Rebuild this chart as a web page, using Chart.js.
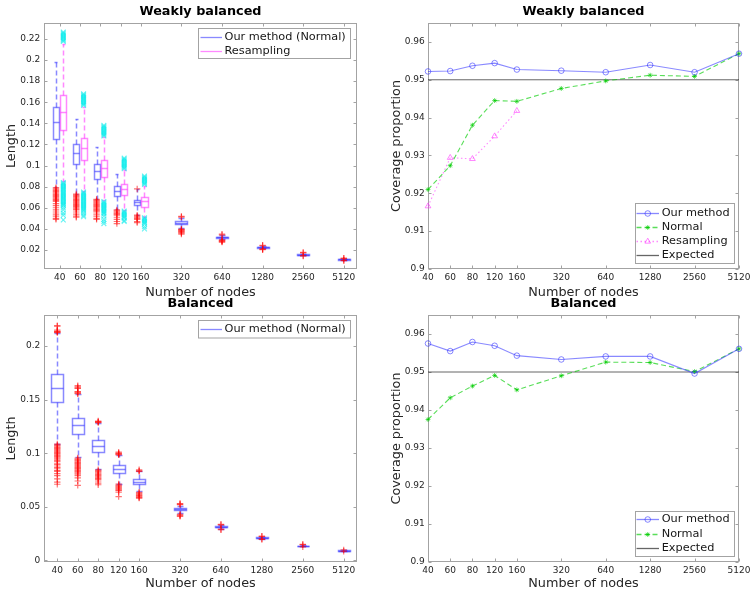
<!DOCTYPE html>
<html><head><meta charset="utf-8">
<script src="https://cdn.jsdelivr.net/npm/chart.js@4.4.1/dist/chart.umd.min.js"></script>
<style>
html,body{margin:0;padding:0;background:#fff;}
#wrap{position:relative;width:756px;height:595px;overflow:hidden;background:#fff;}
canvas{position:absolute;left:0;top:0;}
</style></head><body>
<div id="wrap">
<canvas id="cTL" width="756" height="595"></canvas>
<canvas id="cTR" width="756" height="595"></canvas>
<canvas id="cBL" width="756" height="595"></canvas>
<canvas id="cBR" width="756" height="595"></canvas>
</div>
<script>
// ---------------- DATA ----------------
const nodeLabels = ['40','60','80','120','160','320','640','1280','2560','5120'];
const nodePositions = [1,2,3,4,5,7,9,11,13,15];

const lengthTicksWeak = [0.02,0.04,0.06,0.08,0.1,0.12,0.14,0.16,0.18,0.2,0.22];
const lengthTickLabelsWeak = ['0.02','0.04','0.06','0.08','0.1','0.12','0.14','0.16','0.18','0.2','0.22'];
const lengthTicksBal = [0,0.05,0.1,0.15,0.2];
const lengthTickLabelsBal = ['0','0.05','0.1','0.15','0.2'];
const coverageTicks = [0.9,0.91,0.92,0.93,0.94,0.95,0.96];
const coverageTickLabels = ['0.9','0.91','0.92','0.93','0.94','0.95','0.96'];

// Weakly balanced – Our method (Normal) box statistics
const wbNormQ1  = [0.125, 0.101, 0.0876, 0.0715, 0.0624, 0.0445, 0.0314, 0.0222, 0.0154, 0.0109];
const wbNormMed = [0.141, 0.112, 0.095, 0.0759, 0.0658, 0.0458, 0.0320, 0.0225, 0.0157, 0.0111];
const wbNormQ3  = [0.155, 0.120, 0.101, 0.0803, 0.0677, 0.0470, 0.0326, 0.0228, 0.0160, 0.0113];
const wbNormLo  = [0.0795, 0.0735, 0.0685, 0.0590, 0.0535, 0.0410, 0.0300, 0.0218, 0.0150, 0.0105];
const wbNormHi  = [0.1985, 0.1445, 0.1176, 0.0917, 0.0775, 0.0505, 0.0338, 0.0236, 0.0165, 0.0117];
const wbNormOut = [
  [0.079,0.078,0.077,0.076,0.075,0.074,0.073,0.072,0.071,0.070,0.069,0.068,0.067,0.066,0.064,0.062,0.060,0.058,0.056,0.054,0.052,0.050,0.049],
  [0.073,0.072,0.071,0.070,0.069,0.068,0.067,0.066,0.065,0.064,0.063,0.062,0.061,0.060,0.059,0.058,0.056,0.054,0.052,0.051],
  [0.068,0.067,0.066,0.065,0.064,0.063,0.062,0.061,0.060,0.059,0.058,0.057,0.056,0.054,0.052,0.050,0.049],
  [0.058,0.057,0.056,0.055,0.054,0.053,0.051,0.049,0.047,0.045],
  [0.0778,0.053,0.052,0.051,0.050,0.049,0.047,0.046],
  [0.0512,0.0518,0.0398,0.0392,0.0386,0.038,0.0374,0.0368,0.036,0.035],
  [0.0342,0.035,0.0295,0.029,0.0285,0.028,0.0275],
  [0.024,0.0245,0.0212,0.0207,0.0203],
  [0.0172,0.0177,0.0147,0.0143],
  [0.0119,0.0123,0.0103,0.0100]
];

// Weakly balanced – Resampling box statistics (first five sizes)
const wbResQ1  = [0.1337, 0.105, 0.0895, 0.0718, 0.061];
const wbResMed = [0.1505, 0.1167, 0.0975, 0.0775, 0.0665];
const wbResQ3  = [0.1666, 0.126, 0.105, 0.0826, 0.070];
const wbResLo  = [0.085, 0.076, 0.067, 0.058, 0.0515];
const wbResHi  = [0.2155, 0.155, 0.127, 0.096, 0.081];
const wbResOut = [
  [0.2175,0.2185,0.2195,0.2205,0.2215,0.2225,0.2235,0.2245,0.2255,0.2265,0.084,0.083,0.082,0.081,0.080,0.079,0.078,0.077,0.076,0.075,0.074,0.073,0.072,0.071,0.070,0.069,0.068,0.067,0.066,0.065,0.064,0.063,0.062,0.060,0.058,0.055,0.053,0.0485],
  [0.157,0.158,0.159,0.160,0.161,0.162,0.163,0.164,0.165,0.166,0.167,0.168,0.075,0.074,0.073,0.072,0.071,0.070,0.069,0.068,0.067,0.066,0.065,0.064,0.063,0.062,0.061,0.060,0.059,0.058,0.057,0.055,0.053,0.0515],
  [0.128,0.129,0.130,0.131,0.132,0.133,0.134,0.135,0.136,0.137,0.138,0.066,0.065,0.064,0.063,0.062,0.061,0.060,0.059,0.058,0.057,0.056,0.055,0.054,0.052,0.049,0.047,0.045],
  [0.097,0.098,0.099,0.100,0.101,0.102,0.103,0.104,0.105,0.106,0.107,0.057,0.056,0.055,0.054,0.053,0.052,0.051,0.050,0.048,0.047],
  [0.082,0.083,0.084,0.085,0.086,0.087,0.088,0.089,0.090,0.0505,0.0495,0.0485,0.0475,0.0465,0.0455,0.0445,0.042,0.040]
];

// Balanced – Our method (Normal) box statistics
const bNormQ1  = [0.1476, 0.118, 0.101, 0.0818, 0.0709, 0.0467, 0.0307, 0.0207, 0.0133, 0.0088];
const bNormMed = [0.161, 0.126, 0.1067, 0.085, 0.0733, 0.0476, 0.0312, 0.0210, 0.0135, 0.0090];
const bNormQ3  = [0.1736, 0.133, 0.112, 0.089, 0.0755, 0.0485, 0.0317, 0.0213, 0.0137, 0.0092];
const bNormLo  = [0.109, 0.096, 0.085, 0.0715, 0.0645, 0.0440, 0.0295, 0.0202, 0.0130, 0.0086];
const bNormHi  = [0.212, 0.155, 0.1285, 0.098, 0.083, 0.0510, 0.0325, 0.0218, 0.0140, 0.0094];
const bNormOut = [
  [0.2125,0.213,0.2135,0.214,0.215,0.2185,0.219,0.1085,0.1075,0.1065,0.1055,0.1045,0.1035,0.1025,0.1015,0.1005,0.0995,0.0985,0.0975,0.0965,0.0955,0.0945,0.093,0.092,0.090,0.089,0.087,0.086,0.084,0.083,0.081,0.079,0.076,0.073,0.071],
  [0.1555,0.156,0.157,0.1575,0.1605,0.161,0.162,0.163,0.0955,0.0945,0.0935,0.0925,0.0915,0.0905,0.0895,0.0885,0.0875,0.0865,0.0855,0.0845,0.0835,0.0825,0.0815,0.0805,0.079,0.077,0.074,0.070],
  [0.1285,0.129,0.1295,0.130,0.0845,0.0835,0.0825,0.0815,0.0805,0.0795,0.0785,0.0775,0.0765,0.0755,0.074,0.072,0.0705],
  [0.0985,0.099,0.0995,0.100,0.101,0.0712,0.0703,0.0694,0.0685,0.0676,0.0667,0.0658,0.065,0.0635,0.0595],
  [0.083,0.0835,0.0845,0.0635,0.0627,0.0619,0.0611,0.0603,0.0595,0.0585,0.058],
  [0.052,0.0525,0.053,0.043,0.0423,0.0416,0.041],
  [0.033,0.0336,0.029,0.0285],
  [0.0222,0.0226,0.0198,0.0195],
  [0.0145,0.0149,0.0126],
  [0.0097,0.0084]
];

// Coverage proportions
const wbCovOur       = [0.9522,0.9523,0.9537,0.9544,0.9527,0.9524,0.9520,0.9539,0.9520,0.9569];
const wbCovNormal    = [0.9210,0.9273,0.9380,0.9445,0.9443,0.9477,0.9497,0.9512,0.9509,0.9569];
const wbCovResamp    = [0.9166,0.9294,0.9291,0.9351,0.9418];
const bCovOur        = [0.9575,0.9555,0.9579,0.9569,0.9543,0.9533,0.9541,0.9541,0.9496,0.9561];
const bCovNormal     = [0.9375,0.9432,0.9463,0.9491,0.9453,0.9490,0.9526,0.9525,0.9501,0.9561];
const expectedLevel  = 0.95;

// ---------------- RENDERING ----------------
const FONT = '"DejaVu Sans", sans-serif';
Chart.defaults.font.family = FONT;
Chart.defaults.color = '#262626';

const BLUE = 'rgba(40,40,255,0.55)';
const MAGENTA = 'rgba(255,40,255,0.55)';
const GREEN = 'rgba(0,205,0,0.65)';
const RED_OUT = 'rgba(255,0,0,0.55)';
const CYAN_OUT = 'rgba(0,235,235,0.6)';
const GREY_LINE = 'rgba(0,0,0,0.6)';
const snap = v => Math.round(v) + 0.5;

function axesPlugin() {
  return { id: 'mlAxes', beforeDatasetsDraw(chart) {
    const {ctx, chartArea: a, scales} = chart;
    const L = Math.round(a.left) + 0.5, R = Math.round(a.right) - 0.5;
    const T = Math.round(a.top) + 0.5, B = Math.round(a.bottom) - 0.5;
    ctx.save();
    ctx.strokeStyle = '#a3a3a3'; ctx.lineWidth = 1;
    ctx.strokeRect(L, T, R - L, B - T);
    ctx.beginPath();
    scales.x.ticks.forEach(t => {
      const px = snap(scales.x.getPixelForValue(t.value));
      ctx.moveTo(px, B); ctx.lineTo(px, B - 3); ctx.moveTo(px, T); ctx.lineTo(px, T + 3);
    });
    scales.y.ticks.forEach(t => {
      const py = snap(scales.y.getPixelForValue(t.value));
      ctx.moveTo(L, py); ctx.lineTo(L + 3, py); ctx.moveTo(R, py); ctx.lineTo(R - 3, py);
    });
    ctx.stroke(); ctx.restore();
  }};
}

function boxPlugin(groups) {
  return { id: 'mlBoxes', beforeDatasetsDraw(chart) {
    const {ctx, chartArea: a, scales: {x, y}} = chart;
    ctx.save();
    ctx.beginPath(); ctx.rect(a.left, a.top, a.width, a.height); ctx.clip();
    ctx.lineWidth = 1.5;
    groups.forEach(g => {
      ctx.strokeStyle = g.color;
      g.q1.forEach((q1, i) => {
        const c = nodePositions[i] + g.offset(i), w = g.width(i);
        const xl = snap(x.getPixelForValue(c - w / 2)), xr = snap(x.getPixelForValue(c + w / 2));
        const xc = snap(x.getPixelForValue(c));
        const cl = snap(x.getPixelForValue(c - w / 4)), cr = snap(x.getPixelForValue(c + w / 4));
        const y1 = snap(y.getPixelForValue(q1)), ym = snap(y.getPixelForValue(g.med[i]));
        const y3 = snap(y.getPixelForValue(g.q3[i]));
        const yl = snap(y.getPixelForValue(g.lo[i])), yh = snap(y.getPixelForValue(g.hi[i]));
        ctx.setLineDash([5, 3]);
        ctx.beginPath(); ctx.moveTo(xc, y3); ctx.lineTo(xc, yh); ctx.moveTo(xc, y1); ctx.lineTo(xc, yl); ctx.stroke();
        ctx.setLineDash([]);
        ctx.beginPath(); ctx.moveTo(cl, yh); ctx.lineTo(cr, yh); ctx.moveTo(cl, yl); ctx.lineTo(cr, yl); ctx.stroke();
        ctx.strokeRect(xl, y3, xr - xl, y1 - y3);
        ctx.beginPath(); ctx.moveTo(xl, ym); ctx.lineTo(xr, ym); ctx.stroke();
      });
    });
    ctx.restore();
  }};
}

function drawMarker(ctx, type, x, y, color) {
  ctx.save(); ctx.strokeStyle = color; ctx.lineWidth = 1; ctx.setLineDash([]);
  ctx.beginPath();
  if (type === 'circle') { ctx.arc(x, y, 2.8, 0, Math.PI * 2); }
  else if (type === 'star') {
    const r = 2.4, d = r * 0.707;
    ctx.moveTo(x - r, y); ctx.lineTo(x + r, y); ctx.moveTo(x, y - r); ctx.lineTo(x, y + r);
    ctx.moveTo(x - d, y - d); ctx.lineTo(x + d, y + d); ctx.moveTo(x - d, y + d); ctx.lineTo(x + d, y - d);
  } else if (type === 'triangle') {
    const r = 3.3;
    ctx.moveTo(x, y - r); ctx.lineTo(x + r * 0.866, y + r * 0.5); ctx.lineTo(x - r * 0.866, y + r * 0.5); ctx.closePath();
  }
  ctx.stroke(); ctx.restore();
}

function legendPlugin(box, items) {
  return { id: 'mlLegend', afterDraw(chart) {
    const ctx = chart.ctx;
    ctx.save();
    ctx.fillStyle = '#fff'; ctx.fillRect(box.x, box.y, box.w, box.h);
    ctx.strokeStyle = '#a3a3a3'; ctx.lineWidth = 1;
    ctx.strokeRect(box.x + 0.5, box.y + 0.5, box.w, box.h);
    items.forEach((it, i) => {
      const yy = Math.round(box.y + box.first + i * box.step) + 0.5;
      ctx.strokeStyle = it.color; ctx.lineWidth = 1.3; ctx.setLineDash(it.dash || []);
      ctx.beginPath(); ctx.moveTo(box.x + box.lx0, yy); ctx.lineTo(box.x + box.lx1, yy); ctx.stroke();
      ctx.setLineDash([]);
      if (it.marker) drawMarker(ctx, it.marker, box.x + (box.lx0 + box.lx1) / 2, yy, it.color);
      ctx.fillStyle = '#161616'; ctx.font = '11.3px ' + FONT;
      ctx.textBaseline = 'middle'; ctx.textAlign = 'left';
      ctx.fillText(it.label, box.x + box.tx, yy);
    });
    ctx.restore();
  }};
}

function outlierPoints(outliers, offsetFn) {
  const pts = [];
  outliers.forEach((vals, i) => vals.forEach(v => pts.push({x: nodePositions[i] + offsetFn(i), y: v})));
  return pts;
}
function seriesPoints(values) {
  return values.map((v, i) => ({x: nodePositions[i], y: v}));
}

function makeChart(id, cfg) {
  const a = cfg.area;
  return new Chart(document.getElementById(id), {
    type: 'scatter',
    data: { datasets: cfg.datasets },
    options: {
      responsive: false, animation: false, events: [], devicePixelRatio: 1,
      layout: { padding: { left: cfg.padLeft, right: 756 - a.right, top: a.top - 23, bottom: 595 - a.bottom - cfg.xAxisH } },
      plugins: {
        legend: { display: false }, tooltip: { enabled: false },
        title: { display: true, text: cfg.title, fullSize: false, color: '#000',
                 font: { family: FONT, size: 12.8, weight: 'bold', lineHeight: 1.2 },
                 padding: { top: 4.3, bottom: 3.34 } }
      },
      scales: {
        x: { type: 'linear', min: cfg.xMin, max: cfg.xMax, bounds: 'data',
             grid: { display: false, drawTicks: false, tickLength: 0 }, border: { display: false },
             afterBuildTicks: s => { s.ticks = nodePositions.map(v => ({ value: v })); },
             afterFit: s => { s.height = cfg.xAxisH; },
             ticks: { autoSkip: false, maxRotation: 0, minRotation: 0, padding: 2.9,
                      font: { size: 9 }, color: '#262626', callback: (v, i) => nodeLabels[i] },
             title: { display: true, text: 'Number of nodes', color: '#262626',
                      font: { size: 12.8, lineHeight: 1.2 }, padding: { top: 0, bottom: 0 } } },
        y: { type: 'linear', min: cfg.yMin, max: cfg.yMax, bounds: 'data',
             grid: { display: false, drawTicks: false, tickLength: 0 }, border: { display: false },
             afterBuildTicks: s => { s.ticks = cfg.yTicks.map(v => ({ value: v })); },
             afterFit: s => { s.width = a.left - cfg.padLeft; },
             ticks: { autoSkip: false, padding: cfg.yTickPad, font: { size: 9 }, color: '#262626',
                      callback: (v, i) => cfg.yTickLabels[i] },
             title: { display: true, text: cfg.yTitle, color: '#262626',
                      font: { size: 12.8, lineHeight: 1.2 }, padding: { top: cfg.yTitlePad, bottom: 0 } } }
      }
    },
    plugins: [axesPlugin()].concat(cfg.plugins || [])
  });
}

// ---- Top-left: weakly balanced lengths ----
const nPaired = wbResQ1.length;
const wbNormOffset = i => (i < nPaired ? -0.18 : 0);
const wbNormWidth = i => (i < nPaired ? 0.3 : 0.59);
const wbResOffset = i => 0.18;
const wbResWidth = i => 0.3;

makeChart('cTL', {
  area: { left: 44, top: 23, right: 357, bottom: 269 }, padLeft: 0, xAxisH: 31,
  xMin: 0.23, xMax: 15.65, yMin: 0.002, yMax: 0.235,
  yTicks: lengthTicksWeak, yTickLabels: lengthTickLabelsWeak, yTickPad: 3.7,
  yTitle: 'Length', yTitlePad: 4.0, title: 'Weakly balanced',
  datasets: [
    { data: outlierPoints(wbNormOut, wbNormOffset), pointStyle: 'cross', pointRadius: 3.2,
      pointBorderWidth: 1.2, pointBorderColor: RED_OUT, pointBackgroundColor: RED_OUT },
    { data: outlierPoints(wbResOut, wbResOffset), pointStyle: 'crossRot', pointRadius: 3.4,
      pointBorderWidth: 1.1, pointBorderColor: CYAN_OUT, pointBackgroundColor: CYAN_OUT }
  ],
  plugins: [
    boxPlugin([
      { color: BLUE, q1: wbNormQ1, med: wbNormMed, q3: wbNormQ3, lo: wbNormLo, hi: wbNormHi, offset: wbNormOffset, width: wbNormWidth },
      { color: MAGENTA, q1: wbResQ1, med: wbResMed, q3: wbResQ3, lo: wbResLo, hi: wbResHi, offset: wbResOffset, width: wbResWidth }
    ]),
    legendPlugin({ x: 198, y: 28, w: 152, h: 30, first: 8.7, step: 14, lx0: 2.5, lx1: 24, tx: 26.5 }, [
      { label: 'Our method (Normal)', color: BLUE },
      { label: 'Resampling', color: MAGENTA }
    ])
  ]
});

// ---- Bottom-left: balanced lengths ----
const bOffset = i => 0;
const bWidth = i => 0.57;
makeChart('cBL', {
  area: { left: 44, top: 315, right: 357, bottom: 562 }, padLeft: 0, xAxisH: 29,
  xMin: 0.35, xMax: 15.65, yMin: -0.0016, yMax: 0.229,
  yTicks: lengthTicksBal, yTickLabels: lengthTickLabelsBal, yTickPad: 3.7,
  yTitle: 'Length', yTitlePad: 4.0, title: 'Balanced',
  datasets: [
    { data: outlierPoints(bNormOut, bOffset), pointStyle: 'cross', pointRadius: 3.2,
      pointBorderWidth: 1.2, pointBorderColor: RED_OUT, pointBackgroundColor: RED_OUT }
  ],
  plugins: [
    boxPlugin([
      { color: BLUE, q1: bNormQ1, med: bNormMed, q3: bNormQ3, lo: bNormLo, hi: bNormHi, offset: bOffset, width: bWidth }
    ]),
    legendPlugin({ x: 198, y: 320, w: 152, h: 17.5, first: 9, step: 14, lx0: 2.5, lx1: 24, tx: 26.5 }, [
      { label: 'Our method (Normal)', color: BLUE }
    ])
  ]
});

// ---- Right: coverage ----
function coverageDatasets(our, normal, resamp) {
  const ds = [
    { data: seriesPoints(our), showLine: true, borderColor: BLUE, borderWidth: 1.1, clip: 8,
      pointStyle: 'circle', pointRadius: 2.8, pointBorderWidth: 1, pointBorderColor: BLUE,
      pointBackgroundColor: 'rgba(0,0,0,0)' },
    { data: seriesPoints(normal), showLine: true, borderColor: GREEN, borderWidth: 1.1, borderDash: [5, 3], clip: 8,
      pointStyle: 'star', pointRadius: 2.4, pointBorderWidth: 1, pointBorderColor: GREEN,
      pointBackgroundColor: GREEN }
  ];
  if (resamp) ds.push({ data: seriesPoints(resamp), showLine: true, borderColor: MAGENTA, borderWidth: 1.1,
      borderDash: [1.5, 2.5], clip: 8, pointStyle: 'triangle', pointRadius: 3.3, pointBorderWidth: 1,
      pointBorderColor: MAGENTA, pointBackgroundColor: 'rgba(0,0,0,0)' });
  ds.push({ data: [{ x: nodePositions[0], y: expectedLevel }, { x: nodePositions[nodePositions.length - 1], y: expectedLevel }],
      showLine: true, borderColor: GREY_LINE, borderWidth: 1, pointRadius: 0 });
  return ds;
}

makeChart('cTR', {
  area: { left: 428, top: 23, right: 739, bottom: 269 }, padLeft: 378, xAxisH: 31,
  xMin: 1, xMax: 15, yMin: 0.9, yMax: 0.965,
  yTicks: coverageTicks, yTickLabels: coverageTickLabels, yTickPad: 3.3,
  yTitle: 'Coverage proportion', yTitlePad: 10.6, title: 'Weakly balanced',
  datasets: coverageDatasets(wbCovOur, wbCovNormal, wbCovResamp),
  plugins: [
    legendPlugin({ x: 635, y: 203, w: 99, h: 60, first: 10.3, step: 13.9, lx0: 1.5, lx1: 24, tx: 26.7 }, [
      { label: 'Our method', color: BLUE, marker: 'circle' },
      { label: 'Normal', color: GREEN, dash: [5, 3], marker: 'star' },
      { label: 'Resampling', color: MAGENTA, dash: [1.5, 2.5], marker: 'triangle' },
      { label: 'Expected', color: GREY_LINE }
    ])
  ]
});

makeChart('cBR', {
  area: { left: 428, top: 315, right: 739, bottom: 562 }, padLeft: 378, xAxisH: 29,
  xMin: 1, xMax: 15, yMin: 0.9, yMax: 0.965,
  yTicks: coverageTicks, yTickLabels: coverageTickLabels, yTickPad: 3.3,
  yTitle: 'Coverage proportion', yTitlePad: 10.6, title: 'Balanced',
  datasets: coverageDatasets(bCovOur, bCovNormal, null),
  plugins: [
    legendPlugin({ x: 635, y: 511, w: 99, h: 45, first: 8.3, step: 14.2, lx0: 1.5, lx1: 24, tx: 26.7 }, [
      { label: 'Our method', color: BLUE, marker: 'circle' },
      { label: 'Normal', color: GREEN, dash: [5, 3], marker: 'star' },
      { label: 'Expected', color: GREY_LINE }
    ])
  ]
});
</script>
</body></html>
